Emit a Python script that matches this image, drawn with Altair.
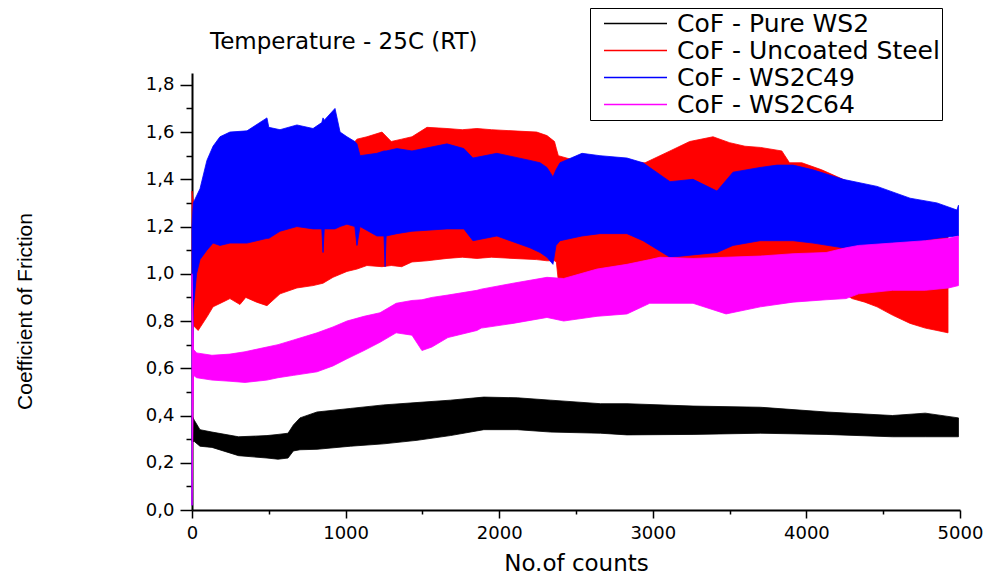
import altair as alt
import pandas as pd

series = ["CoF - Pure WS2", "CoF - Uncoated Steel", "CoF - WS2C49", "CoF - WS2C64"]
colors = ["#000000", "#ff0000", "#0000ff", "#ff00ff"]
chart_title = ["Temperature - 25C (RT)"]

# Pure WS2 (black) envelope
k_x = [0, 15, 52, 130, 303, 488, 560, 625, 660, 703, 814, 1031, 1248, 1465, 1682, 1900,
       2118, 2335, 2660, 2832, 3262, 3700, 4128, 4560, 4774, 4990]
k_lo = [0.29, 0.29, 0.27, 0.265, 0.23, 0.22, 0.215, 0.22, 0.25, 0.255, 0.257, 0.27, 0.28,
        0.295, 0.315, 0.34, 0.34, 0.33, 0.325, 0.318, 0.32, 0.325, 0.32, 0.31, 0.31, 0.31]
k_hi = [0.40, 0.38, 0.34, 0.33, 0.31, 0.315, 0.32, 0.325, 0.36, 0.39, 0.415, 0.43, 0.445,
        0.455, 0.465, 0.478, 0.475, 0.465, 0.45, 0.45, 0.44, 0.435, 0.415, 0.40, 0.41, 0.39]

# Uncoated steel (red) envelope
r_x = [0, 10, 40, 100, 137, 200, 247, 312, 350, 420, 488, 573, 683, 788, 853, 918, 1009,
       1074, 1139, 1237, 1297, 1365, 1432, 1530, 1660, 1760, 1855, 1950, 2090, 2244, 2311,
       2360, 2372, 2385, 2600, 2786, 2950, 3112, 3240, 3392, 3500, 3600, 3700, 3840, 3890,
       3970, 4100, 4238, 4297, 4380, 4460, 4560, 4675, 4774, 4850, 4922]
r_lo = [0.85, 0.78, 0.76, 0.82, 0.86, 0.88, 0.895, 0.87, 0.90, 0.88, 0.865, 0.915, 0.94,
        0.95, 0.96, 0.985, 1.01, 1.02, 1.035, 1.03, 1.035, 1.03, 1.05, 1.055, 1.065, 1.07,
        1.065, 1.07, 1.065, 1.06, 1.055, 1.055, 1.05, 0.97, 0.87, 0.88, 0.92, 0.93, 0.93,
        0.92, 0.90, 0.91, 0.91, 0.93, 0.93, 0.935, 0.94, 0.92, 0.895, 0.88, 0.86, 0.825,
        0.79, 0.77, 0.76, 0.75]
r_hi = [1.35, 1.30, 1.28, 1.35, 1.40, 1.45, 1.48, 1.50, 1.50, 1.50, 1.50, 1.50, 1.50,
        1.50, 1.50, 1.50, 1.52, 1.57, 1.58, 1.60, 1.56, 1.57, 1.58, 1.62, 1.615, 1.61,
        1.615, 1.61, 1.605, 1.60, 1.585, 1.56, 1.53, 1.50, 1.46, 1.47, 1.47, 1.52, 1.56,
        1.58, 1.555, 1.54, 1.535, 1.52, 1.47, 1.47, 1.44, 1.40, 1.38, 1.36, 1.34, 1.30,
        1.27, 1.25, 1.24, 1.22]

# WS2C49 (blue) envelope
b_x = [0, 8, 30, 52, 97, 137, 182, 247, 358, 488, 500, 573, 683, 788, 845, 853, 861, 931,
       964, 1009, 1060, 1074, 1094, 1204, 1250, 1257, 1264, 1334, 1432, 1660, 1770, 1829,
       1985, 2200, 2266, 2311, 2350, 2370, 2396, 2539, 2656, 2832, 2936, 3112, 3262, 3418,
       3522, 3698, 3809, 3913, 4043, 4238, 4460, 4675, 4850, 4980, 4990]
b_lo = [0.02, 0.85, 1.00, 1.06, 1.10, 1.13, 1.12, 1.13, 1.13, 1.15, 1.15, 1.18, 1.20,
        1.19, 1.19, 1.09, 1.19, 1.19, 1.20, 1.21, 1.20, 1.12, 1.20, 1.16, 1.16, 1.03, 1.16,
        1.17, 1.18, 1.19, 1.19, 1.14, 1.16, 1.11, 1.09, 1.07, 1.04, 1.12, 1.14, 1.16, 1.17,
        1.17, 1.14, 1.07, 1.08, 1.09, 1.12, 1.14, 1.14, 1.14, 1.13, 1.11, 1.11, 1.13, 1.15,
        1.16, 1.16]
b_hi = [1.20, 1.30, 1.33, 1.36, 1.48, 1.54, 1.58, 1.60, 1.605, 1.66, 1.62, 1.61, 1.63,
        1.615, 1.64, 1.66, 1.65, 1.70, 1.60, 1.58, 1.56, 1.55, 1.50, 1.51, 1.52, 1.52, 1.52,
        1.53, 1.52, 1.55, 1.53, 1.49, 1.51, 1.48, 1.47, 1.45, 1.41, 1.44, 1.47, 1.51, 1.50,
        1.49, 1.47, 1.39, 1.40, 1.35, 1.43, 1.45, 1.46, 1.46, 1.44, 1.40, 1.37, 1.32, 1.30,
        1.27, 1.29]

# WS2C64 (magenta) envelope
m_x = [0, 10, 30, 130, 247, 345, 488, 560, 662, 814, 918, 1009, 1120, 1224, 1329, 1432,
       1497, 1562, 1666, 1855, 1883, 2090, 2311, 2420, 2637, 2832, 2980, 3047, 3262, 3477,
       3700, 3913, 4128, 4258, 4340, 4560, 4774, 4926, 4990]
m_lo = [0.02, 0.57, 0.56, 0.55, 0.545, 0.54, 0.55, 0.56, 0.57, 0.585, 0.61, 0.64, 0.675,
        0.71, 0.75, 0.74, 0.675, 0.69, 0.73, 0.76, 0.77, 0.79, 0.815, 0.80, 0.82, 0.83,
        0.875, 0.875, 0.875, 0.83, 0.86, 0.88, 0.89, 0.895, 0.915, 0.93, 0.93, 0.94, 0.95]
m_hi = [1.00, 0.68, 0.665, 0.655, 0.66, 0.67, 0.69, 0.70, 0.72, 0.75, 0.775, 0.80, 0.82,
        0.835, 0.875, 0.887, 0.89, 0.90, 0.91, 0.93, 0.935, 0.96, 0.985, 0.98, 1.02, 1.04,
        1.06, 1.07, 1.065, 1.07, 1.075, 1.085, 1.09, 1.11, 1.12, 1.13, 1.14, 1.15, 1.16]

y_ticks = [round(i * 0.1, 1) for i in range(19)]
x_ticks = [i * 500 for i in range(11)]

rows = []
for name, xs, lo, hi in zip(series, [k_x, r_x, b_x, m_x], [k_lo, r_lo, b_lo, m_lo],
                            [k_hi, r_hi, b_hi, m_hi]):
    for x, l, h in zip(xs, lo, hi):
        rows.append({"series": name, "x": x, "lo": l, "hi": h})
df = pd.DataFrame(rows)

FONT = "DejaVu Sans"

x_enc = alt.X("x:Q", scale=alt.Scale(domain=[0, 5000], nice=False),
              axis=alt.Axis(values=x_ticks, title="No.of counts",
                            labelExpr="datum.value % 1000 == 0 ? format(datum.value, 'd') : ''",
                            tickSize={"condition": {"test": "datum.value % 1000 == 0", "value": 8}, "value": 4},
                            labelFlush=False, labelOverlap=False, labelPadding=6,
                            labelFont=FONT, labelFontSize=18, titleFont=FONT, titleFontSize=23,
                            titleFontWeight="normal", titlePadding=10))
y_enc = alt.Y("lo:Q", scale=alt.Scale(domain=[0, 1.85], nice=False),
              axis=alt.Axis(values=y_ticks, title="Coefficient of Friction",
                            labelExpr="round(datum.value*10) % 2 == 0 ? replace(format(datum.value, '.1f'), '.', ',') : ''",
                            tickSize={"condition": {"test": "round(datum.value*10) % 2 == 0", "value": 12}, "value": 6},
                            labelFlush=False, labelOverlap=False, labelPadding=6,
                            labelFont=FONT, labelFontSize=18,
                            titleFont="Liberation Sans", titleFontSize=21, titleFontWeight="normal",
                            titleX=-167, titleY=238, titleAlign="center", titleBaseline="middle",
                            titleAngle=270))

legend = alt.Legend(title=None, orient="none", legendX=398, legendY=-65, direction="vertical",
                    symbolType="M-0.12,0L4.92,0", symbolSize=625, symbolStrokeWidth=1.5,
                    labelFont=FONT, labelFontSize=25, labelColor="black", labelOffset=58,
                    labelLimit=500, strokeColor="black", fillColor="white", padding=2,
                    rowPadding=0)

color_scale = alt.Scale(domain=series, range=colors)

base = alt.Chart(df).mark_area(strokeWidth=0.8, interpolate="linear").encode(
    x=x_enc,
    y=y_enc,
    y2="hi:Q",
    fill=alt.Fill("series:N", scale=color_scale, legend=legend),
    stroke=alt.Stroke("series:N", scale=color_scale, legend=legend),
)

layers = [base.transform_filter(alt.datum.series == s) for s in series]

title_layer = alt.Chart(pd.DataFrame({"t": chart_title})).mark_text(
    align="left", baseline="middle", font=FONT, fontSize=23, color="black"
).encode(x=alt.value(18), y=alt.value(-31), text="t:N")

chart = alt.layer(*layers, title_layer).properties(
    width=768, height=437,
    autosize=alt.AutoSizeParams(type="none"),
    padding={"left": 192, "top": 73, "right": 27, "bottom": 71},
    background="white",
).configure_view(stroke=None).configure_axis(
    domainColor="black", domainWidth=2, tickColor="black", tickWidth=1.5,
    labelColor="black", titleColor="black", grid=False,
)

chart.save("out.html", embed_options={"renderer": "svg", "actions": False})
